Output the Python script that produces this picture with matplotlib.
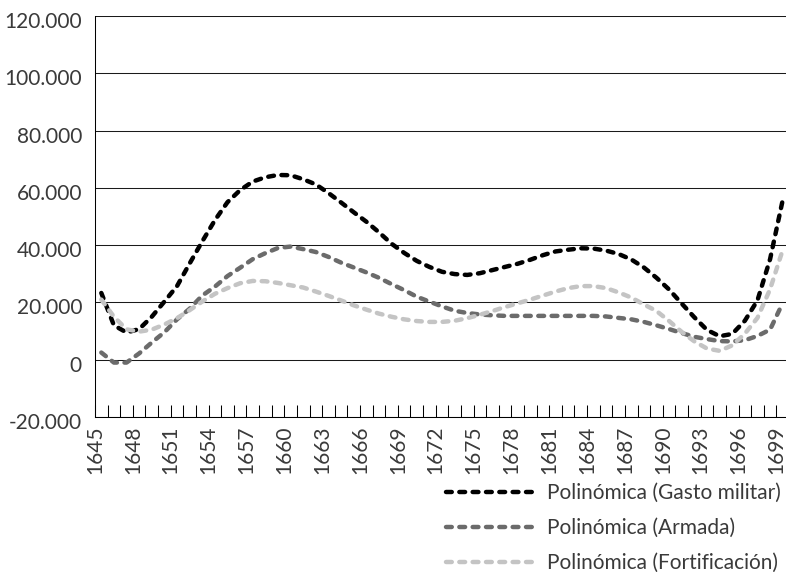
import matplotlib
matplotlib.use('Agg')
import matplotlib.pyplot as plt
from matplotlib.transforms import ScaledTranslation

plt.rcParams['font.family'] = ['Lato', 'DejaVu Sans']
plt.rcParams['font.weight'] = 'normal'

# Categories (one per year)
years = list(range(1645, 1700))

# Polynomial trend values, one per year
gasto_militar = [23300, 12000, 9500, 10700, 15000, 20300, 25700, 33600, 41300, 48700,
                 55000, 59200, 62200, 63700, 64500, 64400, 63000, 61200, 58200, 54900,
                 51500, 48200, 44500, 40500, 37300, 34500, 32400, 30700, 29900, 29600,
                 30200, 31300, 32400, 33500, 34900, 36500, 37800, 38400, 38900, 38800,
                 38100, 36900, 35000, 32200, 28600, 24500, 19600, 14800, 10400, 8200,
                 9000, 13600, 20700, 35100, 55700]
armada = [2500, -1000, -1000, 2200, 6000, 9600, 14100, 17800, 22400, 25500,
          29200, 32100, 35100, 37200, 39000, 39500, 38600, 37600, 35900, 33900,
          32200, 30500, 28600, 26400, 24300, 22000, 20300, 18600, 17100, 16300,
          15800, 15500, 15300, 15300, 15300, 15300, 15300, 15300, 15300, 15300,
          15100, 14600, 14100, 13200, 12000, 10700, 9300, 8000, 7200, 6500,
          6400, 6800, 8300, 10500, 19800]
fortificacion = [21000, 15000, 10600, 9800, 10500, 12300, 14500, 17300, 20300, 23000,
                 25000, 26700, 27500, 27400, 26800, 26000, 25200, 23800, 22300, 20700,
                 19000, 17500, 16100, 15000, 14100, 13500, 13200, 13200, 13600, 14500,
                 15700, 17000, 18400, 19700, 21000, 22400, 23800, 25000, 25700, 25700,
                 25000, 23500, 21700, 19300, 17000, 13500, 9700, 6400, 3900, 3100,
                 5000, 9100, 14600, 24600, 38300]

series_names = ['Polinómica (Gasto militar)', 'Polinómica (Armada)',
                'Polinómica (Fortificación)']
series_colors = ['#000000', '#6b6b6b', '#c4c4c4']

y_ticks = [-20000, 0, 20000, 40000, 60000, 80000, 100000, 120000]
y_tick_labels = ['-20.000', '0', '20.000', '40.000', '60.000', '80.000',
                 '100.000', '120.000']

FS = 15
TXT = '#3a3a3a'

W, H = 786, 572
fig = plt.figure(figsize=(W / 100, H / 100), dpi=100)
ax = fig.add_axes([95 / W, 1 - 417 / H, (789 - 95) / W, (417 - 16) / H])

xs = list(range(len(years)))
handles = []
for vals, col, name in zip([gasto_militar, armada, fortificacion], series_colors, series_names):
    ln, = ax.plot(xs, vals, color=col, lw=3.2, dashes=(1.3, 1.7),
                  dash_capstyle='round', solid_capstyle='round', label=name)
    handles.append(ln)

ax.set_xlim(-0.5, len(years) - 0.5)
ax.set_ylim(-20000, 120000)

# Y axis: gridlines + labels drawn as text (slightly below each gridline)
ax.set_yticks(y_ticks)
ax.set_yticklabels([])
ax.tick_params(axis='y', length=0)
ax.yaxis.grid(True, color='#1a1a1a', lw=0.75)
ax.set_axisbelow(True)
off = ScaledTranslation(-0.13, -0.06, fig.dpi_scale_trans)
for v, lab in zip(y_ticks, y_tick_labels):
    ax.text(0, v, lab, transform=ax.get_yaxis_transform() + off,
            ha='right', va='center', fontsize=FS, color=TXT)

# X axis: a tick at every category boundary, labels every 3 years
tick_pos = [k - 0.5 for k in range(len(years) + 1)]
tick_lab = [str(years[k]) if (k < len(years) and k % 3 == 0) else '' for k in range(len(years) + 1)]
ax.set_xticks(tick_pos)
ax.set_xticklabels(tick_lab)
ax.tick_params(axis='x', direction='in', length=8.5, width=0.75, color='black',
               pad=6, labelrotation=90, labelsize=FS, labelcolor=TXT)

for s in ['top', 'right']:
    ax.spines[s].set_visible(False)
for s in ['left', 'bottom']:
    ax.spines[s].set_color('black')
    ax.spines[s].set_linewidth(0.75)

leg = fig.legend(handles, series_names, loc='upper left',
                 bbox_to_anchor=(446 / W, 1 - 483 / H), frameon=False,
                 fontsize=FS, handlelength=4.3, handletextpad=0.55,
                 labelspacing=0.72, borderpad=0, borderaxespad=0)
for t in leg.get_texts():
    t.set_color(TXT)

fig.savefig('out.png', dpi=100)
